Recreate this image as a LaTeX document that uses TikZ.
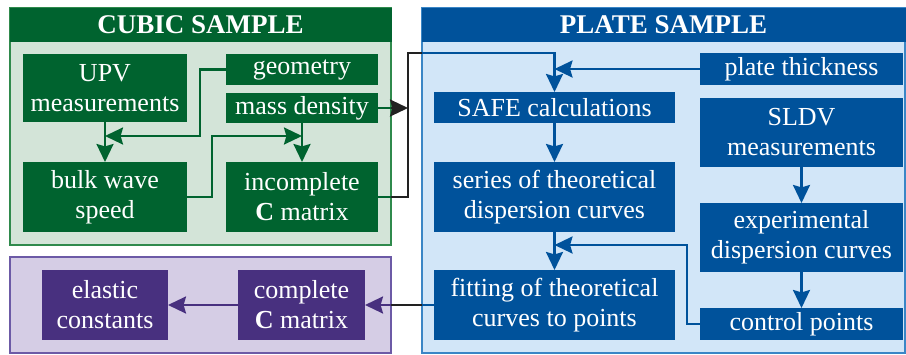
\documentclass[tikz,border=0pt]{standalone}
\usepackage{fontspec}
\setmainfont{Liberation Serif}
\usetikzlibrary{arrows.meta}
\definecolor{gdark}{HTML}{00632F}
\definecolor{glight}{HTML}{D3E4D8}
\definecolor{gborder}{HTML}{2F8A4C}
\definecolor{bdark}{HTML}{00529B}
\definecolor{blight}{HTML}{D2E6F8}
\definecolor{bborder}{HTML}{3A86C6}
\definecolor{pdark}{HTML}{48307F}
\definecolor{plight}{HTML}{D5CDE5}
\definecolor{pborder}{HTML}{6C5AA6}
\definecolor{conblack}{HTML}{222222}
\begin{document}
\begin{tikzpicture}[x=0.5pt,y=-0.5pt,
  box/.style={inner sep=0pt, outer sep=0pt, text=white, align=center,
    font=\fontsize{13}{15}\selectfont},
  gbox/.style={box, fill=gdark},
  bbox/.style={box, fill=bdark},
  pbox/.style={box, fill=pdark},
  sz/.style 2 args={minimum width=#1pt, minimum height=#2pt},
  head/.style={inner sep=0pt, outer sep=0pt, text=white,
    font=\fontsize{13.5}{15}\selectfont\bfseries},
  panel/.style={line width=0.75pt},
  con/.style={line width=1.2pt},
  tip/.style={-{Stealth[length=9pt,width=8.5pt,inset=1.2pt]}}
]
\useasboundingbox (0,0) rectangle (906,354);

% panels
\filldraw[panel, fill=glight, draw=gborder] (10,8) rectangle (391,245);
\node[head, fill=gdark, draw=gdark, sz={190.5}{16.5}] (cubichead) at (200.5,24.5) {CUBIC SAMPLE};
\filldraw[panel, fill=blight, draw=bborder] (422,8) rectangle (905,353);
\node[head, fill=bdark, draw=bdark, sz={241.5}{16.5}] (platehead) at (663.5,24.5) {PLATE SAMPLE};
\filldraw[panel, fill=plight, draw=pborder] (10,257) rectangle (391,353);

% cubic sample boxes
\node[gbox, sz={82}{34}] (upv) at (105,88) {UPV\\measurements};
\node[gbox, sz={76}{15.5}] (geom) at (302,69.5) {geometry};
\node[gbox, sz={76}{15}] (mass) at (302,108) {mass density};
\node[gbox, sz={82}{35}] (bulk) at (105,197) {bulk wave\\speed};
\node[gbox, sz={76}{35}] (inc) at (302,197) {incomplete\\\textbf{C} matrix};

% plate sample boxes
\node[bbox, sz={101.5}{16}] (thick) at (801.5,69) {plate thickness};
\node[bbox, sz={120.5}{15.5}] (safe) at (554.5,107.5) {SAFE calculations};
\node[bbox, sz={101.5}{34.5}] (sldv) at (801.5,132.5) {SLDV\\measurements};
\node[bbox, sz={120.5}{35}] (series) at (554.5,197) {series of theoretical\\dispersion curves};
\node[bbox, sz={101.5}{34.5}] (exper) at (801.5,237.5) {experimental\\dispersion curves};
\node[bbox, sz={120.5}{35}] (fitting) at (554.5,305) {fitting of theoretical\\curves to points};
\node[bbox, sz={101.5}{16}] (ctrl) at (801.5,324) {control points};

% result boxes
\node[pbox, sz={63.5}{35}] (comp) at (301.5,305) {complete\\\textbf{C} matrix};
\node[pbox, sz={63}{35}] (elast) at (105,305) {elastic\\constants};

% helper coordinates
\coordinate (g1) at (105,136);
\coordinate (g2) at (302,136);
\coordinate (gm) at (391,108);
\coordinate (bm) at (408,108);
\coordinate (ie) at (391,197);
\coordinate (pe) at (422,53);
\coordinate (c1) at (554.5,245);
\coordinate (fb) at (422,305);
\coordinate (pc) at (391,305);

% green connectors
\draw[con, gdark, tip] (upv) -- (bulk);
\draw[con, gdark, tip] (geom.west) -| (200,136) -- (g1);
\draw[con, gdark, tip] (bulk.east) -| (212,136) -- (g2);
\draw[con, gdark, tip] (mass) -- (inc);
\draw[con, gdark] (mass.east) -- (gm);
\draw[con, conblack, tip] (gm) -- (bm);
\draw[con, gdark] (inc.east) -- (ie);
\draw[con, conblack] (ie) -- (408,197) -- (408,53) -- (pe);

% blue connectors
\draw[con, bdark, tip] (pe) -| (safe.north);
\draw[con, bdark, tip] (thick.west) -- (thick.west -| safe.north);
\draw[con, bdark, tip] (safe) -- (series);
\draw[con, bdark, tip] (series) -- (fitting);
\draw[con, bdark, tip] (sldv) -- (exper);
\draw[con, bdark, tip] (exper) -- (ctrl);
\draw[con, bdark, tip] (ctrl.west) -| (687,245) -- (c1);
\draw[con, bdark] (fitting.west) -- (fb);
\draw[con, conblack] (fb) -- (pc);

% purple connectors
\draw[con, pdark, tip] (pc) -- (comp.east);
\draw[con, pdark, tip] (comp) -- (elast);
\end{tikzpicture}
\end{document}
